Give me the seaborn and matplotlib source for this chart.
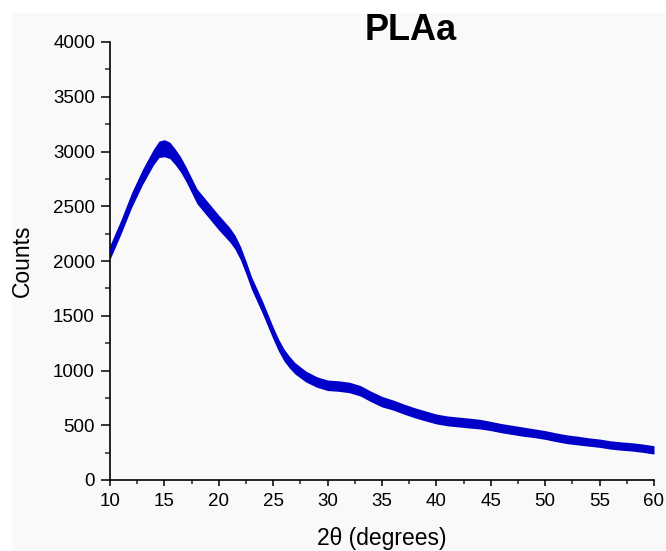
import matplotlib
matplotlib.use("Agg")
import matplotlib.pyplot as plt
from matplotlib.patches import Rectangle
from matplotlib.ticker import MultipleLocator
import seaborn as sns
import pandas as pd
import numpy as np

# ---- data ----
two_theta = [10, 11, 12, 13, 14, 14.5, 15, 15.5, 16, 16.5, 17, 17.5, 18, 19, 20, 21, 21.5, 22,
             22.5, 23, 23.5, 24, 24.5, 25, 25.5, 26, 26.5, 27, 28, 29,
             30, 31, 32, 33, 34, 35, 36, 37, 38, 39, 40, 41, 42, 43, 44, 45, 46, 47, 48, 49,
             50, 51, 52, 53, 54, 55, 56, 57, 58, 59, 60]
counts = [2080, 2310, 2560, 2770, 2950, 3020, 3030, 3010, 2950, 2880, 2790, 2690, 2590, 2470,
          2350, 2240, 2170, 2070, 1940, 1800, 1690, 1580, 1460, 1340, 1230, 1140, 1075, 1020,
          945, 895, 865, 858, 845, 815, 762, 715, 685, 648, 614, 585,
          557, 540, 530, 520, 510, 493, 473, 457, 441, 427, 411, 390, 372, 360, 347, 336, 320,
          310, 302, 290, 275]
# visible spread (half-width) of the noisy trace
noise_spread = [65, 65, 68, 70, 72, 75, 78, 75, 72, 70, 68, 68, 68, 68, 68, 66, 64, 62,
                60, 58, 58, 58, 58, 56, 56, 55, 54, 52, 50, 48,
                48, 48, 48, 48, 48, 48, 46, 46, 46, 46, 45, 45, 45, 45, 44, 42, 42, 42, 42, 40,
                40, 40, 40, 40, 38, 38, 38, 38, 38, 38, 38]
x_ticks = [10, 15, 20, 25, 30, 35, 40, 45, 50, 55, 60]
y_ticks = [0, 500, 1000, 1500, 2000, 2500, 3000, 3500, 4000]
title = "PLAa"
x_label = "2\u03b8 (degrees)"
y_label = "Counts"

df = pd.DataFrame({"two_theta": two_theta, "counts": counts, "spread": noise_spread})

sns.set_theme(style="ticks")
plt.rcParams["font.family"] = ["Liberation Sans", "DejaVu Sans"]

W, H = 666, 551
fig = plt.figure(figsize=(W / 100, H / 100), dpi=100, facecolor="white")
bg = "#f9f9fa"
fig.patches.append(Rectangle((12 / W, 0), 1 - 12 / W, 1 - 13 / H, transform=fig.transFigure,
                             facecolor=bg, edgecolor="none", zorder=-10))

ax = fig.add_axes([110 / W, 1 - 480 / H, (654 - 110) / W, (480 - 42) / H])
ax.set_facecolor(bg)

blue = "#0000c8"
ax.fill_between(df["two_theta"], df["counts"] - df["spread"], df["counts"] + df["spread"],
                color=blue, linewidth=0, zorder=2)
sns.lineplot(data=df, x="two_theta", y="counts", ax=ax, color=blue, linewidth=1.2, zorder=3)

ax.set_xlim(10, 60)
ax.set_ylim(0, 4000)
ax.set_xticks(x_ticks)
ax.set_yticks(y_ticks)
ax.xaxis.set_minor_locator(MultipleLocator(2.5))
ax.yaxis.set_minor_locator(MultipleLocator(250))

for s in ["top", "right"]:
    ax.spines[s].set_visible(False)
for s in ["left", "bottom"]:
    ax.spines[s].set_linewidth(1.2)
    ax.spines[s].set_color("black")

ax.tick_params(axis="y", which="major", length=6.5, width=1.1, labelsize=13.5, pad=4.3, colors="black")
ax.tick_params(axis="y", which="minor", length=3.5, width=1.1)
ax.tick_params(axis="x", which="major", length=4.5, width=1.1, labelsize=13.5, pad=5, colors="black")
ax.tick_params(axis="x", which="minor", length=3, width=1.1)

ax.set_xlabel(x_label, fontsize=16.5, labelpad=12, color="black")
ax.set_ylabel(y_label, fontsize=16.5, labelpad=13.5, color="black")

fig.text(411 / W, 1 - 40 / H, title, ha="center", va="baseline", fontsize=26,
         fontweight="bold", color="black")

fig.savefig("out.png", dpi=100, facecolor=fig.get_facecolor())
